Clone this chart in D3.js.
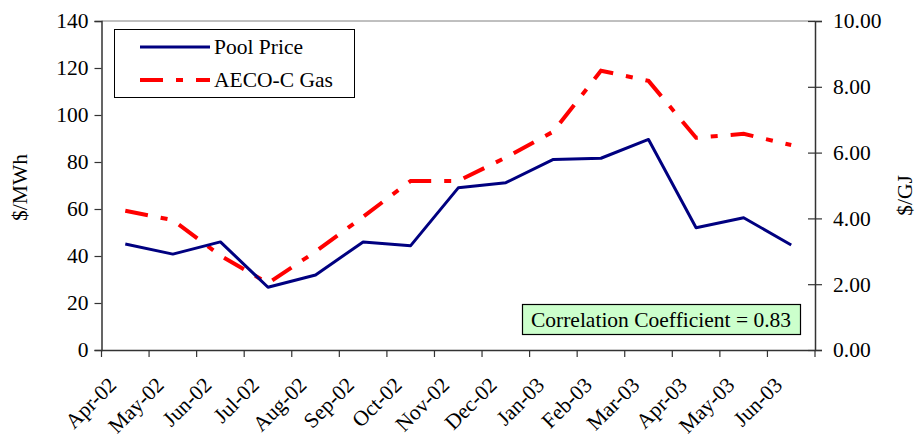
<!DOCTYPE html>
<html lang="en">
<head>
<meta charset="utf-8">
<script src="https://d3js.org/d3.v7.min.js"></script>
<style>
    body { margin: 0; background: #fff; }
    svg text { font-family: "Liberation Serif", "Times New Roman", serif; fill: #000; }
</style>
</head>
<body>
<svg id="chart" width="918" height="436"></svg>
<script>
    // chart values
    var months = ["Apr-02", "May-02", "Jun-02", "Jul-02", "Aug-02", "Sep-02", "Oct-02", "Nov-02",
                  "Dec-02", "Jan-03", "Feb-03", "Mar-03", "Apr-03", "May-03", "Jun-03"];
    var poolPrice = [45.1, 40.8, 46.0, 26.7, 31.9, 46.0, 44.4, 69.0, 71.2, 81.1, 81.6, 89.6, 52.0, 56.3, 44.7];
    var gasPrice = [4.23, 3.95, 2.87, 2.03, 2.99, 4.05, 5.14, 5.14, 5.85, 6.64, 8.49, 8.18, 6.45, 6.57, 6.23];
    var leftTicks = [0, 20, 40, 60, 80, 100, 120, 140];
    var rightTicks = [0, 2, 4, 6, 8, 10];
    var seriesNames = ["Pool Price", "AECO-C Gas"];
    var corrText = "Correlation Coefficient = 0.83";

    var svg = d3.select("#chart");
    var fs = 21.5;
    var pLeft = 101.5, pRight = 815, pTop = 21, pBottom = 350;

    var x = d3.scaleBand().domain(months).range([pLeft, pRight]);
    var yL = d3.scaleLinear().domain([0, 140]).range([pBottom, pTop]);
    var yR = d3.scaleLinear().domain([0, 10]).range([pBottom, pTop]);

    // top border of plot area
    svg.append("line")
        .attr("x1", pLeft).attr("x2", pRight).attr("y1", pTop).attr("y2", pTop)
        .attr("stroke", "#808080").attr("stroke-width", 1);

    // left axis
    var gL = svg.append("g").attr("transform", "translate(" + pLeft + ",0)")
        .call(d3.axisLeft(yL).tickValues(leftTicks).tickSize(7).tickPadding(6));
    // right axis
    var gR = svg.append("g").attr("transform", "translate(" + pRight + ",0)")
        .call(d3.axisRight(yR).tickValues(rightTicks).tickSize(7).tickPadding(11)
            .tickFormat(d3.format(".2f")));
    gR.selectAll(".tick line").attr("x1", -7);
    // bottom axis
    var gB = svg.append("g").attr("transform", "translate(0," + pBottom + ")")
        .call(d3.axisBottom(x).tickSize(0).tickFormat(""));
    var edges = months.map(function (m) { return x(m); }).concat([pRight]);
    gB.selectAll(".edge").data(edges).enter().append("line")
        .attr("x1", function (d) { return d; }).attr("x2", function (d) { return d; })
        .attr("y1", 0).attr("y2", 7).attr("stroke", "#333").attr("stroke-width", 1.2);
    gB.selectAll(".xl").data(months).enter().append("text")
        .attr("text-anchor", "end")
        .attr("font-size", fs)
        .attr("transform", function (d) {
            return "translate(" + (x(d) + x.bandwidth() / 2 - 13) + ",31) rotate(-45)";
        })
        .attr("dy", "0.35em")
        .text(function (d) { return d; });

    [gL, gR, gB].forEach(function (g) {
        g.select(".domain").attr("stroke", "#333").attr("stroke-width", 1.5);
        g.selectAll(".tick line").attr("stroke", "#333").attr("stroke-width", 1.2);
        g.selectAll(".tick text").attr("font-size", fs).attr("fill", "#000")
            .attr("font-family", "Liberation Serif, serif");
    });

    // axis titles
    svg.append("text").attr("font-size", fs).attr("text-anchor", "middle")
        .attr("transform", "translate(27," + ((pTop + pBottom) / 2 + 2) + ") rotate(-90)")
        .text("$/MWh");
    svg.append("text").attr("font-size", fs).attr("text-anchor", "middle")
        .attr("transform", "translate(912," + ((pTop + pBottom) / 2 + 10) + ") rotate(-90)")
        .text("$/GJ");

    var cx = function (d, i) { return x(months[i]) + x.bandwidth() / 2; };
    var dashPattern = "23,13,7,13";

    svg.append("path").datum(gasPrice)
        .attr("fill", "none").attr("stroke", "#ff0000").attr("stroke-width", 4)
        .attr("stroke-dasharray", dashPattern)
        .attr("d", d3.line().x(cx).y(function (d) { return yR(d); }));

    svg.append("path").datum(poolPrice)
        .attr("fill", "none").attr("stroke", "#000080").attr("stroke-width", 3)
        .attr("stroke-linejoin", "round")
        .attr("d", d3.line().x(cx).y(function (d) { return yL(d); }));

    // legend
    var lg = svg.append("g");
    lg.append("rect").attr("x", 114.5).attr("y", 29.5).attr("width", 240).attr("height", 68)
        .attr("fill", "#fff").attr("stroke", "#000").attr("stroke-width", 1);
    var legStyles = [
        { color: "#000080", w: 3, dash: null },
        { color: "#ff0000", w: 4, dash: dashPattern }
    ];
    seriesNames.forEach(function (name, i) {
        var yy = 47 + i * 33;
        lg.append("line").attr("x1", 140).attr("x2", 210).attr("y1", yy).attr("y2", yy)
            .attr("stroke", legStyles[i].color).attr("stroke-width", legStyles[i].w)
            .attr("stroke-dasharray", legStyles[i].dash);
        lg.append("text").attr("x", 214).attr("y", yy + 7).attr("font-size", fs).text(name);
    });

    // correlation box
    svg.append("rect").attr("x", 522.5).attr("y", 304.5).attr("width", 278).attr("height", 30)
        .attr("fill", "#ccffcc").attr("stroke", "#000").attr("stroke-width", 1.2);
    svg.append("text").attr("x", 661).attr("y", 327).attr("text-anchor", "middle")
        .attr("font-size", fs).text(corrText);
</script>
</body>
</html>
